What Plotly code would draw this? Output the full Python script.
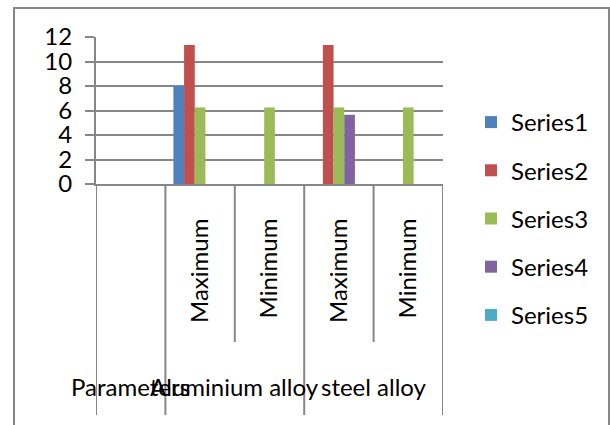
import plotly.graph_objects as go

# Category axis: one sub-label per column, group labels spanning columns
sub_labels = ["", "Maximum", "Minimum", "Maximum", "Minimum"]
group_labels = ["Parameters", "Aluminium alloy", "steel alloy"]
group_spans = [(0, 0), (1, 2), (3, 4)]  # first/last column index of each group

series_names = ["Series1", "Series2", "Series3", "Series4", "Series5"]
series1 = [None, 8.0, None, None, None]
series2 = [None, 11.35, None, 11.35, None]
series3 = [None, 6.25, 6.25, 6.25, 6.25]
series4 = [None, None, None, 5.65, None]
series5 = [None, None, None, None, None]
series_values = [series1, series2, series3, series4, series5]
series_colors = ["#4F81BD", "#C0504D", "#9BBB59", "#8064A2", "#4BACC6"]

y_ticks = [0, 2, 4, 6, 8, 10, 12]

FONT = "Lato"
FS = 24
GRAY = "#878787"

positions = list(range(len(sub_labels)))

fig = go.Figure()
for name, vals, col in zip(series_names, series_values, series_colors):
    fig.add_trace(go.Bar(
        x=positions, y=vals, name=name, marker_color=col,
        marker_line_width=0, legendgroup=name,
    ))

W, H = 610, 425
ML, MR, MT, MB = 96, 167, 37, 241
ph = H - MT - MB
pw = W - ML - MR


def py(px_y):
    """pixel row -> paper y"""
    return (H - MB - px_y) / ph


def px(px_x):
    """pixel column -> paper x"""
    return (px_x - ML) / pw


shapes = []
# column dividers below the axis: long ones between groups, short ones inside a group
n = len(sub_labels)
group_edges = sorted({s - 0.5 for s, _ in group_spans} | {e + 0.5 for _, e in group_spans})
for i in range(n + 1):
    xb = i - 0.5
    long_line = xb in group_edges
    shapes.append(dict(
        type="line", xref="x", yref="paper", x0=xb, x1=xb,
        y0=0, y1=py(415 if long_line else 342),
        line=dict(color=GRAY, width=2), layer="above",
    ))
# chart border
shapes.append(dict(
    type="rect", xref="paper", yref="paper",
    x0=px(14), x1=px(609), y0=py(432), y1=py(8),
    line=dict(color=GRAY, width=2), fillcolor="rgba(0,0,0,0)",
))

annotations = []
for label, (s, e) in zip(group_labels, group_spans):
    annotations.append(dict(
        text=label, xref="x", yref="paper", x=(s + e) / 2, y=py(386),
        showarrow=False, xanchor="center", yanchor="middle",
        font=dict(family=FONT, size=FS, color="black"),
    ))

fig.update_layout(
    width=W, height=H,
    margin=dict(l=ML, r=MR, t=MT, b=MB),
    paper_bgcolor="white", plot_bgcolor="white",
    barmode="group", bargap=1.5 / 6.5, bargroupgap=0,
    font=dict(family=FONT, size=FS, color="black"),
    shapes=shapes, annotations=annotations,
    legend=dict(
        x=px(471), xanchor="left", y=py(100), yanchor="top",
        font=dict(family=FONT, size=FS, color="black"),
        tracegroupgap=14, itemsizing="constant", maxheight=400,
        bgcolor="rgba(0,0,0,0)",
    ),
)
fig.update_xaxes(
    range=[-0.5, n - 0.5], tickmode="array", tickvals=positions, ticktext=sub_labels,
    tickangle=-90, ticks="", showline=True, linecolor=GRAY, linewidth=2,
    showgrid=False, zeroline=False, ticklabelstandoff=23,
    tickfont=dict(family=FONT, size=FS, color="black"),
)
fig.update_yaxes(
    range=[0, 12], tickmode="array", tickvals=y_ticks,
    ticks="outside", ticklen=9, tickwidth=2, tickcolor=GRAY,
    showline=True, linecolor=GRAY, linewidth=2,
    showgrid=True, gridcolor=GRAY, gridwidth=2, zeroline=False,
    ticklabelstandoff=8,
    tickfont=dict(family=FONT, size=FS, color="black"),
)

fig.write_html("out.html")
